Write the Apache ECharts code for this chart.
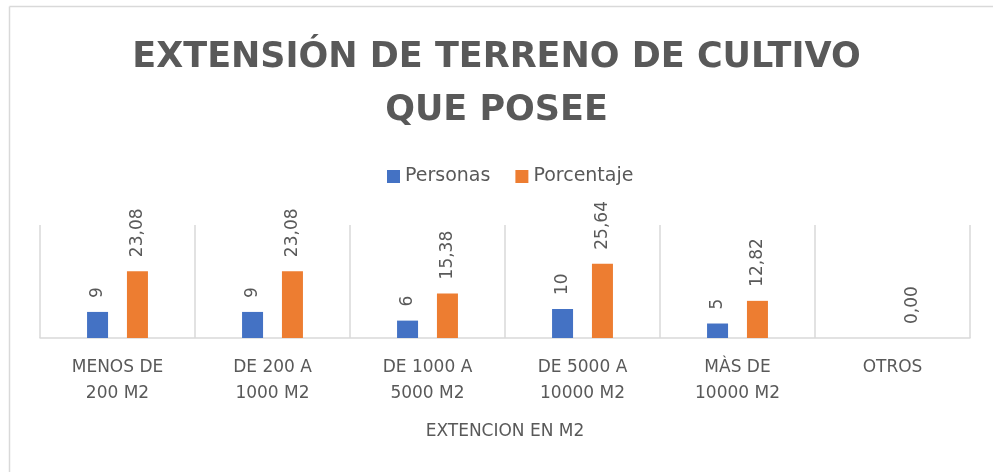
<!DOCTYPE html>
<html>
<head>
<meta charset="utf-8">
<script src="https://cdn.jsdelivr.net/npm/echarts@6/dist/echarts.min.js"></script>
<style>
  html, body { margin: 0; padding: 0; background: #ffffff; }
  #chart { width: 993px; height: 472px; }
</style>
</head>
<body>
<div id="chart"></div>
<script>
// datos
const categorias = [
  "MENOS DE\n200 M2",
  "DE 200 A\n1000 M2",
  "DE 1000 A\n5000 M2",
  "DE 5000 A\n10000 M2",
  "MÀS DE\n10000 M2",
  "OTROS"
];
const personas = [9, 9, 6, 10, 5, null];
const porcentaje = [23.08, 23.08, 15.38, 25.64, 12.82, 0.0];

const gris = "#595959";
const fuente = "DejaVu Sans";

const chart = echarts.init(document.getElementById("chart"), null, { renderer: "canvas" });

const etiqueta = function (fmt) {
  return {
    show: true,
    position: "top",
    rotate: 90,
    align: "left",
    verticalAlign: "middle",
    distance: 14,
    color: gris,
    fontFamily: fuente,
    fontSize: 17,
    formatter: fmt
  };
};

chart.setOption({
  animation: false,
  backgroundColor: "#ffffff",
  title: {
    text: "EXTENSIÓN DE TERRENO DE CULTIVO\nQUE POSEE",
    left: "center",
    top: 26,
    textStyle: {
      color: gris,
      fontFamily: fuente,
      fontWeight: "bold",
      fontSize: 35,
      lineHeight: 53
    }
  },
  legend: {
    top: 162,
    left: 382,
    itemWidth: 13,
    itemHeight: 13,
    itemGap: 25,
    icon: "rect",
    textStyle: { color: gris, fontFamily: fuente, fontSize: 19 },
    data: ["Personas", "Porcentaje"]
  },
  graphic: [
    { type: "line", shape: { x1: 9.5, y1: 6.5, x2: 993, y2: 6.5 }, style: { stroke: "#d9d9d9", lineWidth: 1.5 } },
    { type: "line", shape: { x1: 9.5, y1: 6.5, x2: 9.5, y2: 472 }, style: { stroke: "#d9d9d9", lineWidth: 1.5 } }
  ],
  grid: { left: 40, right: 23, top: 225, bottom: 134 },
  xAxis: {
    type: "category",
    data: categorias,
    name: "EXTENCION EN M2",
    nameLocation: "middle",
    nameGap: 85,
    nameTextStyle: { color: gris, fontFamily: fuente, fontSize: 17 },
    axisLine: { lineStyle: { color: "#d9d9d9", width: 1.5 } },
    axisTick: { show: false },
    splitLine: { show: true, lineStyle: { color: "#d9d9d9", width: 1.5 } },
    axisLabel: {
      color: gris,
      fontFamily: fuente,
      fontSize: 17,
      lineHeight: 26,
      margin: 17
    }
  },
  yAxis: {
    type: "value",
    min: 0,
    max: 39,
    show: false,
    splitLine: { show: false }
  },
  series: [
    {
      name: "Personas",
      type: "bar",
      data: personas,
      barWidth: 21,
      barGap: "90%",
      itemStyle: { color: "#4472C4" },
      label: etiqueta(function (p) { return String(p.value); })
    },
    {
      name: "Porcentaje",
      type: "bar",
      data: porcentaje,
      barWidth: 21,
      barGap: "90%",
      itemStyle: { color: "#ED7D31" },
      label: etiqueta(function (p) { return p.value.toFixed(2).replace(".", ","); })
    }
  ]
});
</script>
</body>
</html>
